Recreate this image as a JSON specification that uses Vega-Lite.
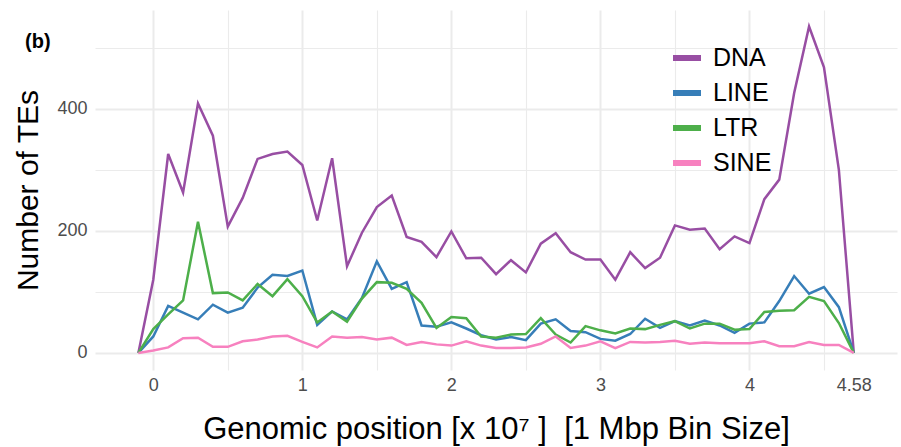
{
  "$schema": "https://vega.github.io/schema/vega-lite/v6.json",
  "autosize": {"type": "none"},
  "padding": {"left": 95, "top": 10, "right": 4, "bottom": 77},
  "width": 802,
  "height": 360,
  "background": "white",
  "config": {
    "view": {"stroke": null},
    "font": "Liberation Sans"
  },
  "title": {
    "text": "(b)",
    "anchor": "start",
    "frame": "group",
    "orient": "top",
    "offset": 0,
    "dx": -70,
    "dy": 58,
    "baseline": "alphabetic",
    "fontSize": 20,
    "fontWeight": "bold",
    "font": "Liberation Sans",
    "color": "black"
  },
  "data": {
    "values": [
      {"pos": -0.1, "DNA": 0, "LINE": 0, "LTR": 0, "SINE": 0},
      {"pos": 0.0, "DNA": 120, "LINE": 27, "LTR": 39, "SINE": 4},
      {"pos": 0.1, "DNA": 326, "LINE": 77, "LTR": 63, "SINE": 9},
      {"pos": 0.2, "DNA": 263, "LINE": 66, "LTR": 86, "SINE": 24},
      {"pos": 0.3, "DNA": 409, "LINE": 55, "LTR": 215, "SINE": 25},
      {"pos": 0.4, "DNA": 356, "LINE": 79, "LTR": 98, "SINE": 10},
      {"pos": 0.5, "DNA": 207, "LINE": 66, "LTR": 99, "SINE": 10},
      {"pos": 0.6, "DNA": 254, "LINE": 74, "LTR": 86, "SINE": 19},
      {"pos": 0.7, "DNA": 318, "LINE": 107, "LTR": 113, "SINE": 22},
      {"pos": 0.8, "DNA": 326, "LINE": 128, "LTR": 93, "SINE": 27},
      {"pos": 0.9, "DNA": 330, "LINE": 126, "LTR": 121, "SINE": 28},
      {"pos": 1.0, "DNA": 308, "LINE": 135, "LTR": 93, "SINE": 18},
      {"pos": 1.1, "DNA": 217, "LINE": 46, "LTR": 50, "SINE": 9},
      {"pos": 1.2, "DNA": 319, "LINE": 68, "LTR": 68, "SINE": 27},
      {"pos": 1.3, "DNA": 142, "LINE": 55, "LTR": 51, "SINE": 25},
      {"pos": 1.4, "DNA": 197, "LINE": 90, "LTR": 89, "SINE": 26},
      {"pos": 1.5, "DNA": 239, "LINE": 150, "LTR": 116, "SINE": 22},
      {"pos": 1.6, "DNA": 258, "LINE": 105, "LTR": 115, "SINE": 25},
      {"pos": 1.7, "DNA": 190, "LINE": 116, "LTR": 105, "SINE": 13},
      {"pos": 1.8, "DNA": 182, "LINE": 45, "LTR": 82, "SINE": 18},
      {"pos": 1.9, "DNA": 157, "LINE": 43, "LTR": 41, "SINE": 14},
      {"pos": 2.0, "DNA": 199, "LINE": 50, "LTR": 59, "SINE": 12},
      {"pos": 2.1, "DNA": 155, "LINE": 40, "LTR": 57, "SINE": 19},
      {"pos": 2.2, "DNA": 156, "LINE": 29, "LTR": 27, "SINE": 12},
      {"pos": 2.3, "DNA": 129, "LINE": 22, "LTR": 25, "SINE": 8},
      {"pos": 2.4, "DNA": 152, "LINE": 26, "LTR": 30, "SINE": 8},
      {"pos": 2.5, "DNA": 132, "LINE": 21, "LTR": 31, "SINE": 9},
      {"pos": 2.6, "DNA": 179, "LINE": 48, "LTR": 57, "SINE": 15},
      {"pos": 2.7, "DNA": 196, "LINE": 55, "LTR": 30, "SINE": 27},
      {"pos": 2.8, "DNA": 165, "LINE": 36, "LTR": 17, "SINE": 8},
      {"pos": 2.9, "DNA": 153, "LINE": 34, "LTR": 44, "SINE": 12},
      {"pos": 3.0, "DNA": 153, "LINE": 23, "LTR": 37, "SINE": 19},
      {"pos": 3.1, "DNA": 120, "LINE": 20, "LTR": 32, "SINE": 8},
      {"pos": 3.2, "DNA": 165, "LINE": 31, "LTR": 40, "SINE": 18},
      {"pos": 3.3, "DNA": 139, "LINE": 56, "LTR": 39, "SINE": 17},
      {"pos": 3.4, "DNA": 156, "LINE": 41, "LTR": 46, "SINE": 18},
      {"pos": 3.5, "DNA": 209, "LINE": 52, "LTR": 52, "SINE": 20},
      {"pos": 3.6, "DNA": 202, "LINE": 45, "LTR": 40, "SINE": 15},
      {"pos": 3.7, "DNA": 204, "LINE": 53, "LTR": 48, "SINE": 17},
      {"pos": 3.8, "DNA": 170, "LINE": 45, "LTR": 48, "SINE": 16},
      {"pos": 3.9, "DNA": 191, "LINE": 33, "LTR": 38, "SINE": 16},
      {"pos": 4.0, "DNA": 180, "LINE": 48, "LTR": 39, "SINE": 16},
      {"pos": 4.1, "DNA": 252, "LINE": 50, "LTR": 67, "SINE": 19},
      {"pos": 4.2, "DNA": 284, "LINE": 85, "LTR": 69, "SINE": 11},
      {"pos": 4.3, "DNA": 426, "LINE": 126, "LTR": 70, "SINE": 11},
      {"pos": 4.4, "DNA": 535, "LINE": 97, "LTR": 92, "SINE": 18},
      {"pos": 4.5, "DNA": 468, "LINE": 108, "LTR": 85, "SINE": 13},
      {"pos": 4.6, "DNA": 300, "LINE": 75, "LTR": 49, "SINE": 13},
      {"pos": 4.7, "DNA": 0, "LINE": 0, "LTR": 0, "SINE": 0}
    ]
  },
  "transform": [
    {"fold": ["DNA", "LINE", "LTR", "SINE"], "as": ["type", "count"]}
  ],
  "mark": {"type": "line", "strokeWidth": 2.5, "strokeJoin": "miter", "clip": true},
  "encoding": {
    "x": {
      "field": "pos",
      "type": "quantitative",
      "scale": {"domain": [-0.391, 4.99], "nice": false, "zero": false},
      "axis": {
        "values": [0, 0.5, 1, 1.5, 2, 2.5, 3, 3.5, 4, 4.5, 4.7],
        "labelExpr": "datum.value == 4.7 ? '4.58' : (datum.value % 1 == 0 ? format(datum.value, 'd') : '')",
        "domain": false,
        "ticks": false,
        "grid": true,
        "gridColor": {"condition": {"test": "datum.value == 4.7", "value": "transparent"}, "value": "#ebebeb"},
        "gridWidth": {"condition": {"test": "datum.value % 1 == 0", "value": 2}, "value": 1.1},
        "labelFont": "Liberation Sans",
        "labelFontSize": 18,
        "labelColor": "#4d4d4d",
        "labelPadding": 6,
        "labelFlush": false,
        "labelOverlap": false,
        "title": "Genomic position [x 10⁷ ]\u00a0\u00a0[1 Mbp Bin Size]",
        "titleFont": "Liberation Sans",
        "titleFontSize": 31,
        "titleFontWeight": "normal",
        "titleColor": "black",
        "titlePadding": 20
      }
    },
    "y": {
      "field": "count",
      "type": "quantitative",
      "scale": {"domain": [-28, 562], "nice": false, "zero": false},
      "axis": {
        "values": [0, 100, 200, 300, 400, 500],
        "labelExpr": "datum.value % 200 == 0 ? datum.label : ''",
        "domain": false,
        "ticks": false,
        "grid": true,
        "gridColor": "#ebebeb",
        "gridWidth": {"condition": {"test": "datum.value % 200 == 0", "value": 2}, "value": 1.1},
        "labelFont": "Liberation Sans",
        "labelFontSize": 18,
        "labelColor": "#4d4d4d",
        "labelPadding": 8,
        "title": "Number of TEs",
        "titleFont": "Liberation Sans",
        "titleFontSize": 30,
        "titleFontWeight": "normal",
        "titleColor": "black",
        "titlePadding": 13
      }
    },
    "color": {
      "field": "type",
      "type": "nominal",
      "scale": {
        "domain": ["DNA", "LINE", "LTR", "SINE"],
        "range": ["#984ea3", "#377eb8", "#4daf4a", "#f781bf"]
      },
      "legend": {
        "orient": "none",
        "legendX": 575,
        "legendY": 31,
        "direction": "vertical",
        "title": null,
        "symbolType": "stroke",
        "symbolStrokeWidth": 6,
        "symbolSize": 784,
        "labelFont": "Liberation Sans",
        "labelFontSize": 25,
        "labelColor": "black",
        "labelOffset": 9,
        "rowPadding": 5
      }
    }
  }
}
